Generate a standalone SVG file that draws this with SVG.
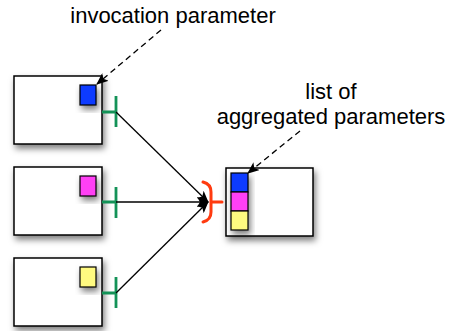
<svg xmlns="http://www.w3.org/2000/svg" width="449" height="331" viewBox="0 0 449 331">
  <style>
    .box { fill: #ffffff; stroke: #000000; stroke-width: 1.5; filter: url(#shadow); }
    .param { stroke: #000000; stroke-width: 1.2; filter: url(#shadow); }
    .port { stroke: #139257; stroke-width: 2.8; fill: none; }
    .flow { stroke: #000000; stroke-width: 1.3; fill: none; marker-end: url(#head); }
    .note { stroke: #000000; stroke-width: 1.3; fill: none; stroke-dasharray: 6 4; marker-end: url(#head); }
    .join { stroke: #ff3b10; stroke-width: 3; fill: none; stroke-linecap: round; }
    .label { font-family: "Liberation Sans", Arial, Helvetica, sans-serif; font-size: 22px; fill: #000000; text-anchor: middle; }
  </style>
  <defs>
    <filter id="shadow" x="-30%" y="-30%" width="170%" height="170%">
      <feDropShadow dx="2" dy="4" stdDeviation="3" flood-color="#000000" flood-opacity="0.5"/>
    </filter>
    <marker id="head" viewBox="0 0 12 10" refX="11" refY="5" markerWidth="12" markerHeight="10" markerUnits="userSpaceOnUse" orient="auto">
      <path d="M0,0 L12,5 L0,10 L3,5 z" fill="#000000"/>
    </marker>
  </defs>

  <!-- source components, each with its own parameter and output port -->
  <g id="source1">
    <rect class="box" x="14" y="76" width="88" height="68"/>
    <rect class="param" x="80" y="85" width="16" height="20" fill="#0d3bff"/>
    <path class="port" d="M102,112 H116 M116,96 V127"/>
  </g>
  <g id="source2">
    <rect class="box" x="14" y="167" width="88" height="68"/>
    <rect class="param" x="80" y="176" width="16" height="20" fill="#ff40f5"/>
    <path class="port" d="M102,202 H116 M116,187 V218"/>
  </g>
  <g id="source3">
    <rect class="box" x="14" y="258" width="88" height="68"/>
    <rect class="param" x="80" y="267" width="16" height="20" fill="#fffa80"/>
    <path class="port" d="M102,293 H116 M116,277 V308"/>
  </g>

  <!-- aggregating component holding the list of parameters -->
  <g id="aggregator">
    <rect class="box" x="226" y="168" width="87" height="68"/>
    <g filter="url(#shadow)">
      <rect x="231" y="173" width="17" height="19" fill="#0d3bff" stroke="#000" stroke-width="1.2"/>
      <rect x="231" y="192" width="17" height="19" fill="#ff40f5" stroke="#000" stroke-width="1.2"/>
      <rect x="231" y="211" width="17" height="19" fill="#fffa80" stroke="#000" stroke-width="1.2"/>
    </g>
    <path class="join" d="M203,182 Q211,184 211,192 V212 Q211,220 203,222 M211,202 H222"/>
  </g>

  <g id="labels">
    <text class="label" x="173" y="23">invocation parameter</text>
    <text class="label" x="331" y="99">list of</text>
    <text class="label" x="331" y="124">aggregated parameters</text>
  </g>

  <g id="connectors">
    <line class="flow" x1="116" y1="112" x2="208" y2="202"/>
    <line class="flow" x1="116" y1="202" x2="208" y2="202"/>
    <line class="flow" x1="116" y1="293" x2="208" y2="202"/>
    <line class="note" x1="161" y1="30" x2="97" y2="84"/>
    <line class="note" x1="300" y1="131" x2="248" y2="173"/>
  </g>
</svg>
